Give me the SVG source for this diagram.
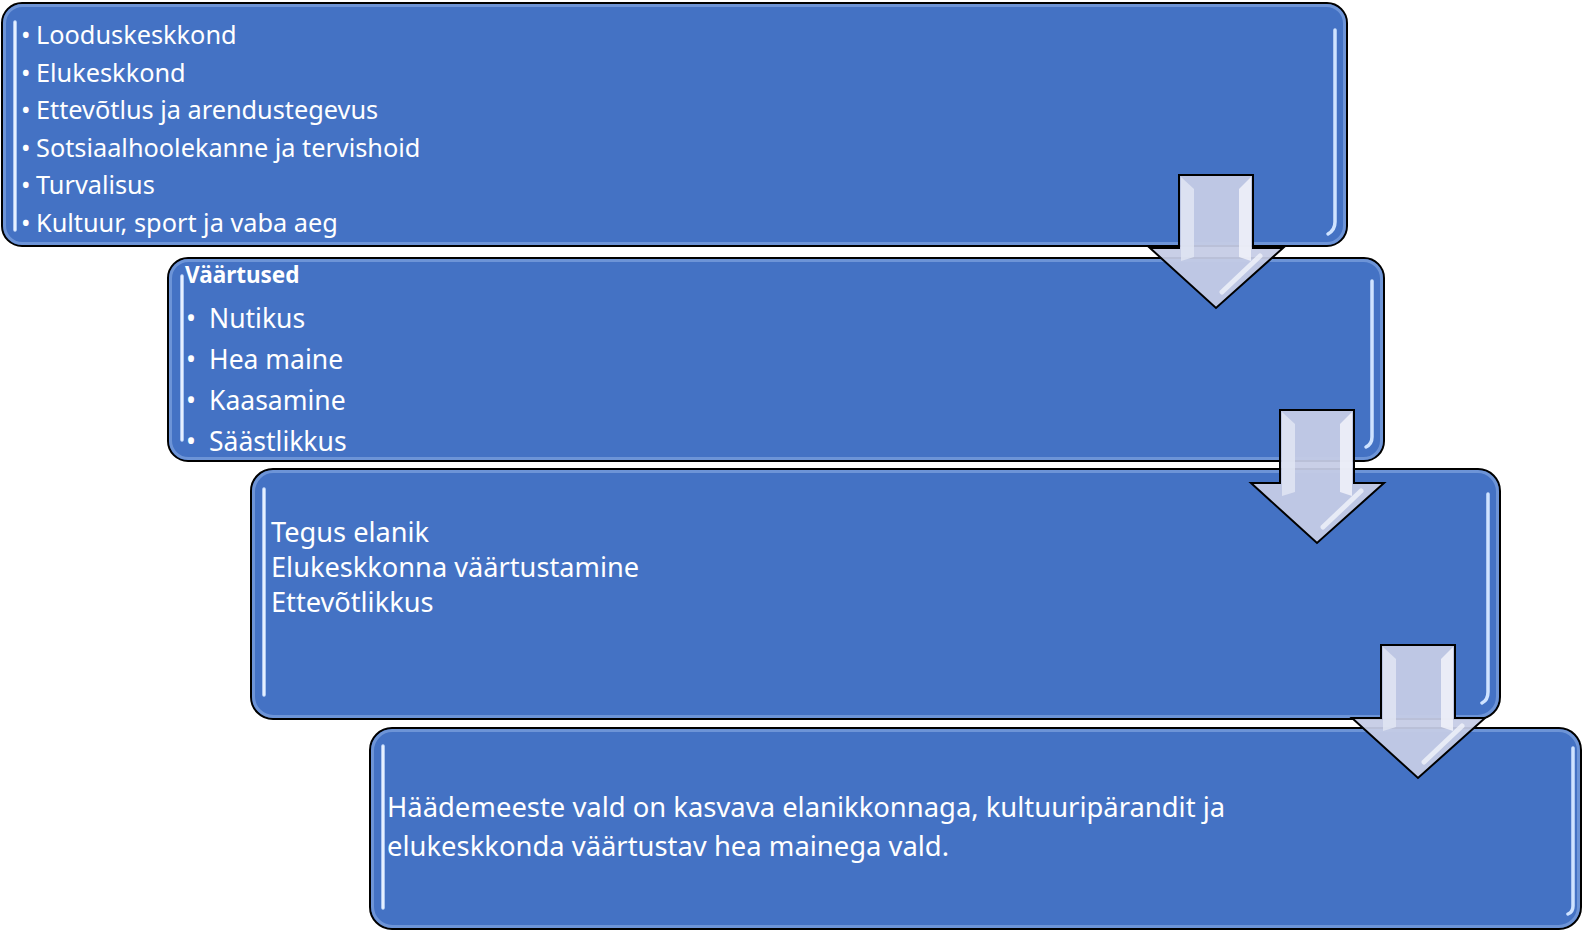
<svg xmlns="http://www.w3.org/2000/svg" width="1583" height="931" viewBox="0 0 1583 931">
<style>
.box{fill:#4472C4;stroke:#000;stroke-width:2}
.inner{fill:none;stroke:#8FB0E8;stroke-opacity:0.55;stroke-width:3}
.hl{stroke:#CFE3FF;stroke-width:3.5;stroke-linecap:round;fill:none}
.hl2{stroke:#FFFFFF;stroke-width:1.2;stroke-linecap:round;fill:none;opacity:0.8}
.t{font-family:"Noto Sans","Open Sans",sans-serif;fill:#FFFFFF}
.arrow{fill:#C6CCE5;fill-opacity:0.94;stroke:#000;stroke-width:2;stroke-linejoin:miter}
</style>
<defs>
<g id="arrowShape">
<polygon class="arrow" points="29,0 103,0 103,73 133,73 66,133 0,73 29,73"/>
<polygon points="31,2 44,14 44,82 31,86" fill="#DFE3F2" opacity="0.9"/>
<polygon points="101,2 89,14 89,82 101,86" fill="#EEF0F8" opacity="0.9"/>
<line x1="110" y1="81" x2="72" y2="117" stroke="#F2F4FB" stroke-width="5" stroke-linecap="round" opacity="0.8"/>
</g>
</defs>

<g id="node1">
<rect class="box" x="2" y="3" width="1345" height="243" rx="20"/>
<rect class="inner" x="4.5" y="5.5" width="1340" height="238" rx="18"/>
<line class="hl" x1="15" y1="22" x2="15" y2="230"/>
<line class="hl2" x1="15" y1="22" x2="15" y2="230"/>
<path class="hl" d="M1335 30 L1335 222 Q1335 230 1328 234"/>
<text class="t" font-size="25.3"><tspan x="21" y="44">•</tspan><tspan x="36" y="44">Looduskeskkond</tspan></text>
<text class="t" font-size="25.3"><tspan x="21" y="82">•</tspan><tspan x="36" y="82">Elukeskkond</tspan></text>
<text class="t" font-size="25.3"><tspan x="21" y="119">•</tspan><tspan x="36" y="119">Ettevõtlus ja arendustegevus</tspan></text>
<text class="t" font-size="25.3"><tspan x="21" y="157">•</tspan><tspan x="36" y="157">Sotsiaalhoolekanne ja tervishoid</tspan></text>
<text class="t" font-size="25.3"><tspan x="21" y="194">•</tspan><tspan x="36" y="194">Turvalisus</tspan></text>
<text class="t" font-size="25.3"><tspan x="21" y="232">•</tspan><tspan x="36" y="232">Kultuur, sport ja vaba aeg</tspan></text>
</g>

<g id="node2">
<rect class="box" x="168" y="258" width="1216" height="203" rx="20"/>
<rect class="inner" x="170.5" y="260.5" width="1211" height="198" rx="18"/>
<line class="hl" x1="182" y1="276" x2="182" y2="440"/>
<line class="hl2" x1="182" y1="276" x2="182" y2="440"/>
<path class="hl" d="M1372 281 L1372 437 Q1372 444 1366 447"/>
<text class="t" font-size="22.5" font-weight="bold" x="185" y="283">Väärtused</text>
<text class="t" font-size="26.5"><tspan x="186" y="328">•</tspan><tspan x="209" y="328">Nutikus</tspan></text>
<text class="t" font-size="26.5"><tspan x="186" y="369">•</tspan><tspan x="209" y="369">Hea maine</tspan></text>
<text class="t" font-size="26.5"><tspan x="186" y="410">•</tspan><tspan x="209" y="410">Kaasamine</tspan></text>
<text class="t" font-size="26.5"><tspan x="186" y="451">•</tspan><tspan x="209" y="451">Säästlikkus</tspan></text>
</g>

<g id="node3">
<rect class="box" x="251" y="469" width="1249" height="250" rx="22"/>
<rect class="inner" x="253.5" y="471.5" width="1244" height="245" rx="20"/>
<line class="hl" x1="264" y1="489" x2="264" y2="695"/>
<line class="hl2" x1="264" y1="489" x2="264" y2="695"/>
<path class="hl" d="M1488 494 L1488 692 Q1488 700 1482 703"/>
<text class="t" font-size="27.2" x="271" y="542">Tegus elanik</text>
<text class="t" font-size="27.2" x="271" y="577">Elukeskkonna väärtustamine</text>
<text class="t" font-size="27.2" x="271" y="612">Ettevõtlikkus</text>
</g>

<g id="node4">
<rect class="box" x="370" y="728" width="1211" height="201" rx="22"/>
<rect class="inner" x="372.5" y="730.5" width="1206" height="196" rx="20"/>
<line class="hl" x1="383" y1="746" x2="383" y2="908"/>
<line class="hl2" x1="383" y1="746" x2="383" y2="908"/>
<path class="hl" d="M1573 748 L1573 906 Q1573 912 1568 914"/>
<text class="t" font-size="27.4" x="387" y="817">Häädemeeste vald on kasvava elanikkonnaga, kultuuripärandit ja</text>
<text class="t" font-size="27.4" x="387" y="856">elukeskkonda väärtustav hea mainega vald.</text>
</g>

<g id="connectors">
<use href="#arrowShape" transform="translate(1150,175)"/>
<use href="#arrowShape" transform="translate(1251,410)"/>
<use href="#arrowShape" transform="translate(1352,645)"/>
</g>
</svg>
